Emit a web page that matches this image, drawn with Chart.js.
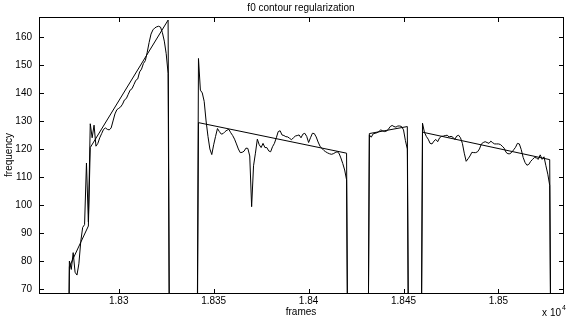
<!DOCTYPE html>
<html>
<head>
<meta charset="utf-8">
<script src="https://cdn.jsdelivr.net/npm/chart.js@4.4.1/dist/chart.umd.min.js"></script>
<style>
  html, body { margin: 0; padding: 0; background: #fff; }
  #wrap { width: 568px; height: 319px; }
</style>
</head>
<body>
<div id="wrap"><canvas id="f0Chart"></canvas></div>
<script>
// --- data (frames, Hz) ---
const xMin = 18258, xMax = 18534;
const yMin = 68.6, yMax = 167.1;
const xTicks = [18300, 18350, 18400, 18450, 18500];
const xTickLabels = ['1.83', '1.835', '1.84', '1.845', '1.85'];
const yTicks = [70, 80, 90, 100, 110, 120, 130, 140, 150, 160];

// first frame of each voiced segment (one value per frame, 0 = unvoiced)
const segStarts = [18273, 18341, 18431, 18459];
const f0Seg1 = [0, 80, 77, 83, 76, 75, 79, 87, 92, 93, 115, 94, 129, 124, 128.5, 121, 122, 124, 125.5, 127,
  127.5, 127, 126.8, 127.5, 130, 132.5, 134, 134.5, 135, 136, 137.5, 138, 139.5, 141, 141.5, 143, 144.5, 145,
  147.5, 148.5, 150.5, 151.5, 154.5, 158, 161, 162.5, 163.2, 163.6, 163.8, 163.5, 161.5, 158.5, 154, 147, 0];
const f0Seg2 = [0, 152.3, 141, 140, 137, 130, 124.5, 120, 118, 121.5, 124.5, 127.3, 126.2, 125.3, 125.5, 126.2,
  126.7, 127, 125.8, 124.8, 123.5, 121.8, 120, 118.7, 118.8, 119.2, 120.3, 120.2, 117.5, 99.4, 114, 118.5, 123.5,
  121.5, 120.5, 122, 120.5, 120.5, 119.3, 119, 120.8, 122, 124, 126.2, 126.5, 125, 124.8, 124.4, 124.3, 123.8,
  123.3, 124, 124.6, 124.8, 125, 124, 125.3, 125.6, 124.5, 122.3, 124, 125.6, 125.5, 124.3, 122.5, 121, 120.2,
  119.5, 119, 118.6, 118.3, 118.1, 118.3, 118.7, 119, 118.5, 116.8, 114.8, 112.5, 109, 0];
const f0Seg3 = [0, 125, 124.2, 125.4, 125.6, 125.8, 126.2, 126.8, 126.5, 126.2, 126.4, 127, 128, 128.4, 128,
  127.8, 128.2, 128.2, 128, 126.8, 123, 120, 0];
const f0Seg4 = [0, 129.2, 126, 124.5, 123.5, 122, 121.8, 122.8, 123.4, 122.6, 124, 124.5, 124.6, 124.8, 124.9,
  124.3, 124.5, 124.2, 123.4, 124.6, 124.9, 124, 122, 118.5, 115.6, 116.5, 117.5, 118.8, 118.7, 118.7, 119, 120,
  121.8, 122.3, 122.6, 122.3, 122, 122.8, 122.2, 121.8, 121.8, 121.8, 121.6, 121, 120.3, 118.8, 118.3, 118.3,
  118.8, 119.7, 120.6, 122, 121.8, 119.8, 117, 115.2, 114.2, 114.5, 115.6, 116.3, 117, 116.8, 116.3, 117.9,
  116.3, 117.2, 114, 111, 107, 0];

// regularized (piecewise linear) contour
const regFrames = [18273, 18274, 18284, 18285, 18326, 18327, 18341, 18342, 18420, 18421,
  18431, 18432, 18452, 18453, 18459, 18460, 18527, 18528];
const regValues = [0, 78, 92.5, 120.5, 166, 0, 0, 129.4, 118.5, 0,
  0, 125.5, 128, 0, 0, 126, 116.2, 0];

// --- build points ---
const f0Points = [];
[f0Seg1, f0Seg2, f0Seg3, f0Seg4].forEach((seg, s) => {
  seg.forEach((v, i) => f0Points.push({ x: segStarts[s] + i, y: v }));
});
const regPoints = regFrames.map((f, i) => ({ x: f, y: regValues[i] }));

// --- matlab style box, inward ticks, exponent label ---
const boxPlugin = {
  id: 'matlabBox',
  afterDraw(chart) {
    const { ctx, chartArea: a, scales: { x, y } } = chart;
    const tl = 5;
    ctx.save();
    ctx.strokeStyle = '#000';
    ctx.lineWidth = 1;
    ctx.strokeRect(a.left + 0.5, a.top + 0.5, a.right - a.left, a.bottom - a.top);
    ctx.beginPath();
    yTicks.forEach(v => {
      const py = Math.round(y.getPixelForValue(v)) + 0.5;
      ctx.moveTo(a.left, py); ctx.lineTo(a.left + tl, py);
      ctx.moveTo(a.right + 1, py); ctx.lineTo(a.right + 1 - tl, py);
    });
    xTicks.forEach(v => {
      const px = Math.round(x.getPixelForValue(v)) + 0.5;
      ctx.moveTo(px, a.bottom + 1); ctx.lineTo(px, a.bottom + 1 - tl);
      ctx.moveTo(px, a.top); ctx.lineTo(px, a.top + tl);
    });
    ctx.stroke();

    ctx.fillStyle = '#000';
    ctx.textBaseline = 'alphabetic';
    ctx.font = '10px "Liberation Sans", Arial, sans-serif';
    ctx.textAlign = 'right';
    ctx.fillText('x 10', 561, 316);
    ctx.font = '7px "Liberation Sans", Arial, sans-serif';
    ctx.textAlign = 'left';
    ctx.fillText('4', 562, 310);
    ctx.restore();
  }
};

Chart.defaults.font.family = '"Liberation Sans", Arial, Helvetica, sans-serif';
Chart.defaults.font.size = 10;
Chart.defaults.color = '#000';

new Chart(document.getElementById('f0Chart'), {
  type: 'line',
  data: {
    datasets: [
      { label: 'f0', data: f0Points, borderColor: '#000', borderWidth: 1, pointRadius: 0, tension: 0, fill: false },
      { label: 'regularized', data: regPoints, borderColor: '#000', borderWidth: 1, pointRadius: 0, tension: 0, fill: false }
    ]
  },
  options: {
    responsive: true,
    maintainAspectRatio: false,
    devicePixelRatio: 1,
    animation: false,
    events: [],
    layout: { padding: { left: 0, right: 5, top: 0, bottom: 0 } },
    plugins: {
      legend: { display: false },
      tooltip: { enabled: false },
      title: {
        display: true, text: 'f0 contour regularization', fullSize: false,
        font: { size: 10, weight: 'normal' }, padding: { top: 2, bottom: 3 }, color: '#000'
      }
    },
    scales: {
      x: {
        type: 'linear', min: xMin, max: xMax,
        grid: { display: false, drawTicks: false },
        border: { display: false },
        afterBuildTicks: s => { s.ticks = xTicks.map(v => ({ value: v })); },
        ticks: { padding: 2, maxRotation: 0, autoSkip: false, callback: (v, i) => xTickLabels[i] },
        title: { display: true, text: 'frames', padding: { top: 0, bottom: 1 } },
        afterFit: s => { s.height = 26; }
      },
      y: {
        type: 'linear', min: yMin, max: yMax,
        grid: { display: false, drawTicks: false },
        border: { display: false },
        afterBuildTicks: s => { s.ticks = yTicks.map(v => ({ value: v })); },
        ticks: { padding: 7, autoSkip: false },
        title: { display: true, text: 'frequency', padding: { top: 3, bottom: 0 } },
        afterFit: s => { s.width = 39; }
      }
    }
  },
  plugins: [boxPlugin]
});
</script>
</body>
</html>
